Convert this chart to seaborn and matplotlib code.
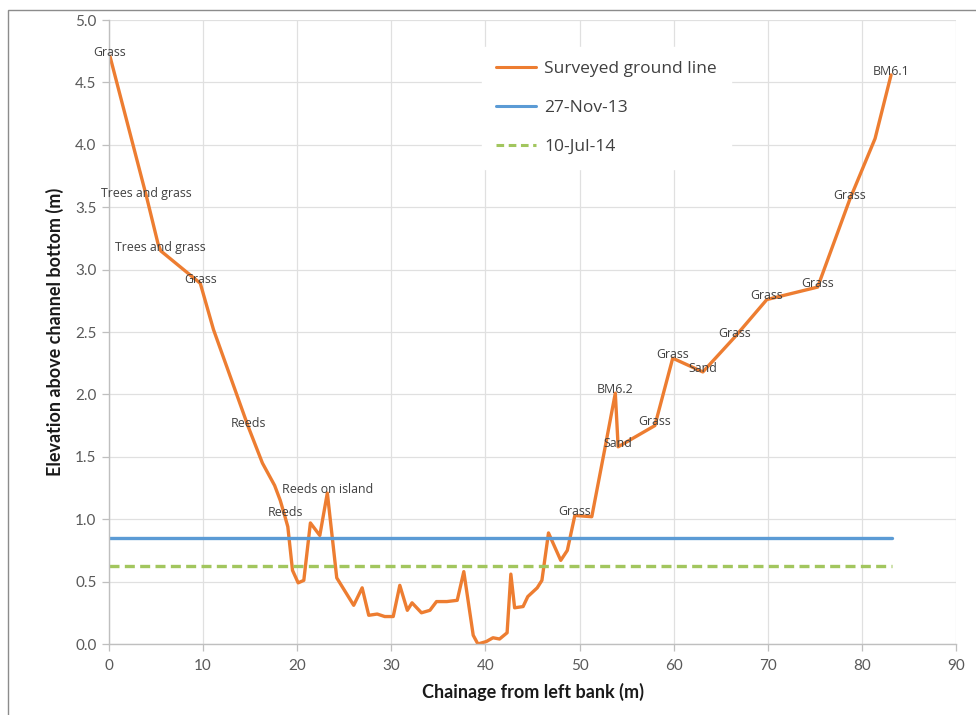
import matplotlib
matplotlib.use("Agg")
import matplotlib.pyplot as plt
import seaborn as sns
import pandas as pd
from matplotlib.lines import Line2D
from matplotlib.patches import Rectangle

# Surveyed cross-section: chainage (m) and elevation above channel bottom (m)
chainage = [0.1, 4.0, 5.2, 5.5, 9.7, 11.1, 14.8, 16.3, 17.6, 18.2, 18.7, 19.0,
            19.5, 20.1, 20.7, 21.4, 22.4, 23.2, 24.2, 26.0, 26.9, 27.6, 28.5,
            29.3, 30.2, 30.9, 31.7, 32.2, 33.2, 34.1, 34.8, 35.9, 37.0, 37.7,
            38.7, 39.2, 40.1, 40.8, 41.5, 42.3, 42.7, 43.1, 44.0, 44.5, 45.5,
            46.0, 46.7, 48.0, 48.7, 49.5, 51.3, 52.7, 53.8, 54.1, 58.0, 59.9,
            63.1, 66.5, 69.9, 75.3, 78.7, 81.4, 83.1]
elevation = [4.71, 3.58, 3.21, 3.15, 2.89, 2.52, 1.74, 1.45, 1.27, 1.15, 1.02, 0.94,
             0.59, 0.49, 0.51, 0.97, 0.87, 1.21, 0.53, 0.31, 0.45, 0.23, 0.24,
             0.22, 0.22, 0.47, 0.27, 0.33, 0.25, 0.27, 0.34, 0.34, 0.35, 0.58,
             0.07, 0.00, 0.02, 0.05, 0.04, 0.09, 0.56, 0.29, 0.30, 0.38, 0.45,
             0.51, 0.89, 0.67, 0.75, 1.03, 1.02, 1.57, 2.01, 1.58, 1.75, 2.29,
             2.18, 2.46, 2.76, 2.86, 3.56, 4.05, 4.56]
point_notes = ["Grass", "Trees and grass", "", "Trees and grass", "Grass", "", "Reeds", "", "", "", "Reeds", "",
               "", "", "", "", "", "Reeds on island", "", "", "", "", "",
               "", "", "", "", "", "", "", "", "", "", "",
               "", "", "", "", "", "", "", "", "", "", "",
               "", "", "", "", "Grass", "", "", "BM6.2", "Sand", "Grass", "Grass",
               "Sand", "Grass", "Grass", "Grass", "Grass", "", "BM6.1"]

# Water levels on two survey dates
level_dates = ["27-Nov-13", "10-Jul-14"]
level_values = [0.85, 0.625]
level_extent = [0.0, 83.2]

ORANGE = "#ED7D31"
BLUE = "#5B9BD5"
GREEN = "#A2C65E"

sns.set_theme(style="white")
plt.rcParams["font.family"] = ["Lato", "DejaVu Sans"]

fig = plt.figure(figsize=(9.76, 7.15), dpi=100)
ax = fig.add_axes([109 / 976, 1 - 644 / 715, (956 - 109) / 976, (644 - 20) / 715])

ground = pd.DataFrame({"chainage": chainage, "elevation": elevation})
sns.lineplot(data=ground, x="chainage", y="elevation", ax=ax, color=ORANGE,
             linewidth=2.4, sort=False, label="Surveyed ground line")

styles = ["-", (0, (3, 1.6))]
colors = [BLUE, GREEN]
for name, lvl, col, ls in zip(level_dates, level_values, colors, styles):
    df = pd.DataFrame({"chainage": level_extent, "elevation": [lvl, lvl]})
    sns.lineplot(data=df, x="chainage", y="elevation", ax=ax, color=col,
                 linewidth=2.4, linestyle=ls, label=name)

for x, y, note in zip(chainage, elevation, point_notes):
    if note:
        ax.text(x, y + 0.03, note, ha="center", va="center", fontsize=8.9,
                color="#404040", family=["Open Sans", "DejaVu Sans"], zorder=5)

ax.set_xlim(0, 90)
ax.set_ylim(0, 5.0)
ax.set_xticks(range(0, 91, 10))
ax.set_yticks([i * 0.5 for i in range(11)])
ax.set_yticklabels([f"{i * 0.5:.1f}" for i in range(11)])
ax.grid(True, color="#E0E0E0", linewidth=0.9)
ax.set_axisbelow(True)

for side in ["top", "right"]:
    ax.spines[side].set_visible(False)
for side in ["left", "bottom"]:
    ax.spines[side].set_color("#BFBFBF")
    ax.spines[side].set_linewidth(1.0)

ax.tick_params(axis="both", which="both", length=5, width=0.9, color="#BFBFBF",
               labelsize=11, labelcolor="#595959", direction="out")
ax.tick_params(axis="x", bottom=True, pad=6)
ax.tick_params(axis="y", left=True, pad=4)

ax.set_xlabel("Chainage from left bank (m)", fontsize=13, fontweight="bold",
              color="#1a1a1a", labelpad=7)
ax.set_ylabel("Elevation above channel bottom (m)", fontsize=13, fontweight="bold",
              color="#1a1a1a", labelpad=8)

handles = [Line2D([], [], color=ORANGE, lw=2.2),
           Line2D([], [], color=BLUE, lw=2.2),
           Line2D([], [], color=GREEN, lw=2.2, linestyle=(0, (2.5, 1.5)))]
leg = ax.legend(handles, ["Surveyed ground line"] + level_dates,
                loc="upper left", bbox_to_anchor=(0.43, 0.97), frameon=True,
                fontsize=12.5, handlelength=2.3, handletextpad=0.5,
                labelspacing=1.3, borderpad=0.8)
leg.get_frame().set_facecolor("white")
leg.get_frame().set_edgecolor("white")
leg.get_frame().set_alpha(1.0)
for t in leg.get_texts():
    t.set_color("#404040")
    t.set_family(["Open Sans", "DejaVu Sans"])

# outer chart border
fig.patches.append(Rectangle((8 / 976, -0.05), 1.2, 1 - 10 / 715 + 0.05,
                             transform=fig.transFigure, fill=False,
                             edgecolor="#8C8C8C", linewidth=1.0))

fig.savefig("out.png", dpi=100)
